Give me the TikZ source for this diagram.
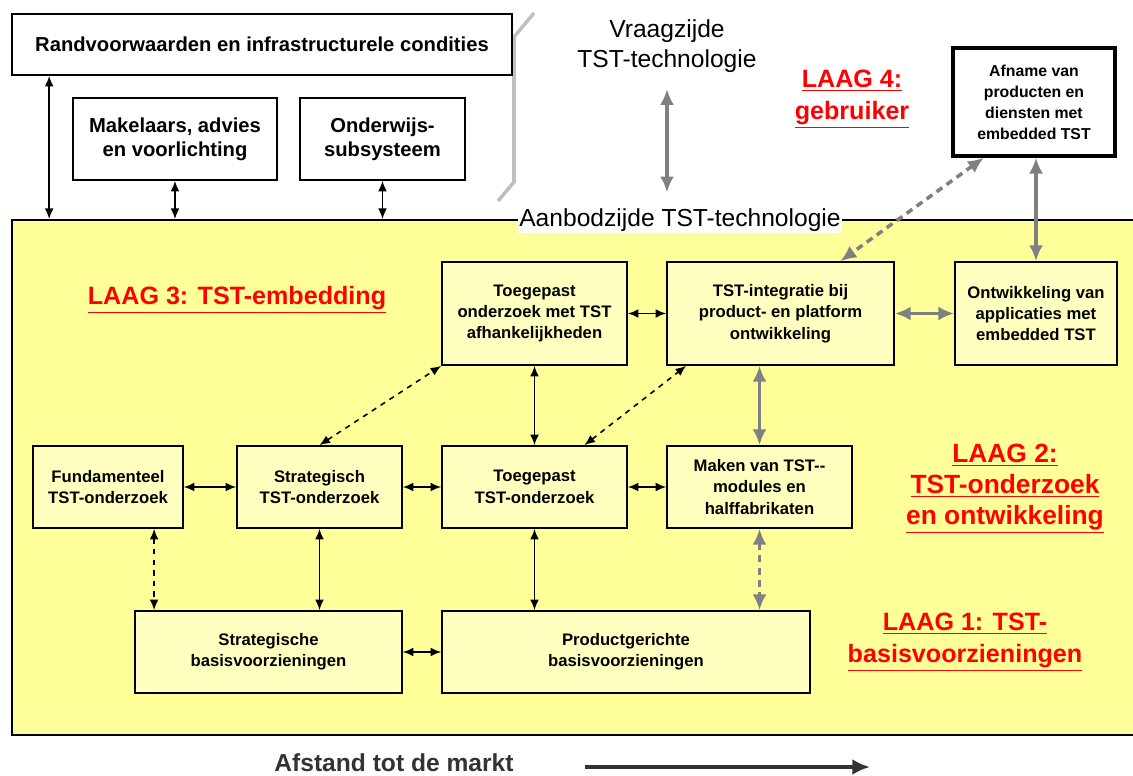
\documentclass[tikz,border=0pt]{standalone}
\usepackage{fontspec}
\setmainfont{Liberation Sans}
\usetikzlibrary{arrows.meta}
\usetikzlibrary{calc}

\definecolor{layerbg}{HTML}{FFFF99}
\definecolor{boxbg}{HTML}{FFFFC0}
\definecolor{arrgray}{HTML}{808080}
\definecolor{markgray}{HTML}{333333}

\begin{document}
\begin{tikzpicture}[x=0.02cm,y=-0.02cm,>/.tip={Latex},
	blok/.style={draw,line width=1pt,fill=boxbg,align=center,font=\fontsize{9.5}{12.2}\selectfont\bfseries,minimum height=1.64cm},
	wit/.style={draw,line width=1pt,fill=white,align=center,font=\fontsize{11.5}{13.5}\selectfont\bfseries},
	laag/.style={text=red,align=center,font=\fontsize{14.3}{18}\selectfont\bfseries},
	zwart/.style={<->,line width=0.8pt,>={Latex[length=6pt,width=5pt]}},
	streep/.style={<->,dashed,line width=0.9pt,>={Latex[length=6pt,width=5pt]}},
	grijs/.style={<->,draw=arrgray,line width=2pt,>={Latex[length=9pt,width=8pt]}},
	grijsstreep/.style={<->,draw=arrgray,dashed,dash pattern=on 4pt off 3pt,line width=2pt,>={Latex[length=9pt,width=8pt]}}]
	\useasboundingbox (0,0) rectangle (1133,776);

	% aanbodzijde
	\draw (574,477.5) node(aanbodvlak) [draw,line width=1.2pt,fill=layerbg,minimum width=22.48cm,minimum height=10.3cm] {};
	\draw (680,220) node(aanbod) [fill=white,inner sep=1pt,font=\fontsize{14}{17}\selectfont] {Aanbodzijde TST-technologie};
	\draw (667,46) node(vraag) [align=center,font=\fontsize{14}{17}\selectfont] {Vraagzijde\\TST-technologie};
	\draw[grijs,shorten <=6pt,shorten >=8pt] (vraag.south) -- (vraag.south |- aanbod.north);
	\draw[draw=black!25,line width=2pt] (534,13) -- (514,37) -- (514,182) -- (498,201);

	% bovenste rij
	\draw (262,44.5) node(rand) [wit,minimum width=10cm,minimum height=1.22cm] {Randvoorwaarden en infrastructurele condities};
	\draw (175,139) node(mak) [wit,minimum width=4.08cm,minimum height=1.64cm] {Makelaars, advies\\en voorlichting};
	\draw (382.5,139) node(ond) [wit,minimum width=3.3cm,minimum height=1.64cm] {Onderwijs-\\subsysteem};
	\draw (1034,102) node(afn) [wit,line width=2pt,minimum width=3.24cm,minimum height=2.16cm,font=\fontsize{9}{12}\selectfont\bfseries] {Afname van\\producten en\\diensten met\\embedded TST};
	\draw[zwart] ([xshift=0.76cm]rand.south west) -- ([xshift=0.76cm]rand.south west |- aanbodvlak.north);
	\draw[zwart] (mak.south) -- (mak.south |- aanbodvlak.north);
	\draw[zwart] (ond.south) -- (ond.south |- aanbodvlak.north);

	% lagen
	\draw (852,99) node(laag4) [laag] {\underline{LAAG 4:}\\\underline{gebruiker}};
	\draw (237,300) node(laag3) [laag] {\underline{LAAG 3: TST-embedding}};
	\draw (1005,489) node(laag2) [laag,font=\fontsize{15}{17.5}\selectfont\bfseries] {\underline{LAAG 2:}\\\underline{TST-onderzoek}\\\underline{en ontwikkeling}};
	\draw (965,642) node(laag1) [laag] {\underline{LAAG 1: TST-}\\\underline{basisvoorzieningen}};

	% laag 3
	\draw (534.5,313.5) node(toegm) [blok,minimum width=3.7cm,minimum height=2.06cm] {Toegepast\\onderzoek met TST\\afhankelijkheden};
	\draw (780.5,313.5) node(integ) [blok,minimum width=4.54cm,minimum height=2.06cm] {TST-integratie bij\\product- en platform\\ontwikkeling};
	\draw (1036,313.5) node(ontw) [blok,minimum width=3.24cm,minimum height=2.06cm] {Ontwikkeling van\\applicaties met\\embedded TST};

	% laag 2
	\draw (108,487) node(fund) [blok,minimum width=3cm] {Fundamenteel\\TST-onderzoek};
	\draw (319.5,487) node(strat) [blok,minimum width=3.3cm] {Strategisch\\TST-onderzoek};
	\draw (534.5,487) node(toeg) [blok,minimum width=3.7cm] {Toegepast\\TST-onderzoek};
	\draw (759.5,487) node(maken) [blok,minimum width=3.7cm] {Maken van TST-{}-\\modules en\\halffabrikaten};

	% laag 1
	\draw (268.5,652) node(sbasis) [blok,minimum width=5.34cm] {Strategische\\basisvoorzieningen};
	\draw (626,652) node(pbasis) [blok,minimum width=7.36cm] {Productgerichte\\basisvoorzieningen};

	% verbindingen
	\draw[zwart] (fund) -- (strat);
	\draw[zwart] (strat) -- (toeg);
	\draw[zwart] (toeg) -- (maken);
	\draw[zwart] (toegm) -- (integ);
	\draw[zwart] (sbasis) -- (pbasis);
	\draw[zwart] (toegm) -- (toeg);
	\draw[zwart] (strat.south) -- (strat.south |- sbasis.north);
	\draw[zwart] (toeg.south) -- (toeg.south |- pbasis.north);
	\draw[streep] ([xshift=2.44cm]fund.south west) -- ([xshift=2.44cm]fund.south west |- sbasis.north);
	\draw[streep] (strat.north) -- (toegm.south west);
	\draw[streep] ([xshift=1cm]toeg.north) -- ([xshift=0.4cm]integ.south west);
	\draw[grijs] (integ) -- (ontw);
	\draw[grijs] (maken.north) -- (maken.north |- integ.south);
	\draw[grijs] (afn.south -| ontw.north) -- (ontw.north);
	\draw[grijsstreep] ([xshift=0.65cm]afn.south west) -- ([xshift=1.2cm]integ.north);
	\draw[grijsstreep] (maken.south) -- (maken.south |- pbasis.north);

	% markt
	\draw (394,763) node(markt) [text=markgray,font=\fontsize{14}{17}\selectfont\bfseries] {Afstand tot de markt};
	\coordinate (marktpijl) at (870,767);
	\draw[->,draw=markgray,line width=2.4pt,>={Latex[length=10pt,width=9pt]}] ([xshift=1.3cm]markt.east |- marktpijl) -- (marktpijl);
\end{tikzpicture}
\end{document}
